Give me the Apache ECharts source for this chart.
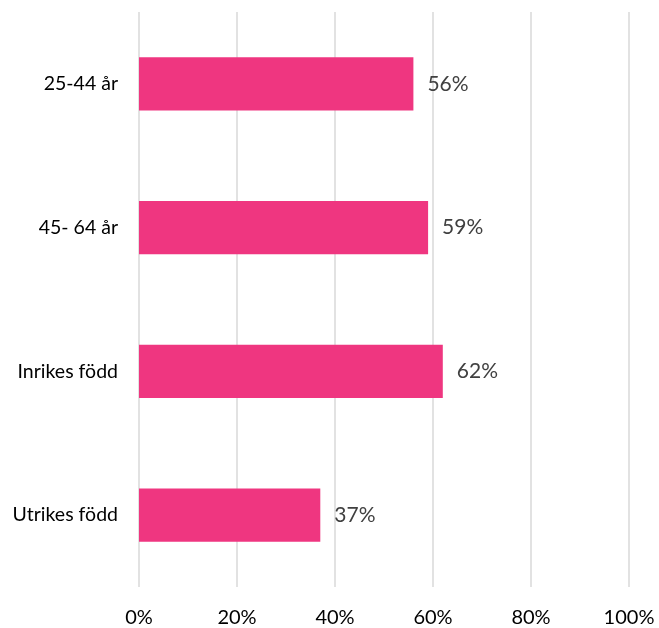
<!DOCTYPE html>
<html>
<head>
<meta charset="utf-8">
<script src="https://cdn.jsdelivr.net/npm/echarts@6/dist/echarts.min.js"></script>
<style>
  html, body { margin: 0; padding: 0; background: #fff; }
  #chart { width: 659px; height: 628px; }
</style>
</head>
<body>
<div id="chart"></div>
<script>
// Share per group, in percent (top to bottom)
const categories = ['25-44 år', '45- 64 år', 'Inrikes född', 'Utrikes född'];
const values = [56, 59, 62, 37];
const xTicks = [0, 20, 40, 60, 80, 100];

const chart = echarts.init(document.getElementById('chart'), null, { renderer: 'canvas' });

chart.setOption({
  backgroundColor: '#ffffff',
  animation: false,
  textStyle: { fontFamily: 'Lato, "Open Sans", sans-serif' },
  grid: { left: 139, right: 30, top: 12, bottom: 39, containLabel: false },
  xAxis: {
    type: 'value',
    min: xTicks[0],
    max: xTicks[xTicks.length - 1],
    interval: 20,
    axisLine: { show: false },
    axisTick: { show: false },
    splitLine: { show: true, lineStyle: { color: '#d9d9d9', width: 1.5 } },
    axisLabel: {
      formatter: v => v + '%',
      color: '#000000',
      fontSize: 20,
      margin: 21
    }
  },
  yAxis: {
    type: 'category',
    data: categories,
    inverse: true,
    axisLine: { show: false },
    axisTick: { show: false },
    axisLabel: { color: '#000000', fontSize: 19.5, margin: 21 }
  },
  series: [{
    type: 'bar',
    data: values,
    barCategoryGap: '63%',
    itemStyle: { color: '#EF3680' },
    label: {
      show: true,
      position: 'right',
      distance: 14,
      formatter: p => p.value + '%',
      color: '#404040',
      fontSize: 21
    }
  }]
});
</script>
</body>
</html>
